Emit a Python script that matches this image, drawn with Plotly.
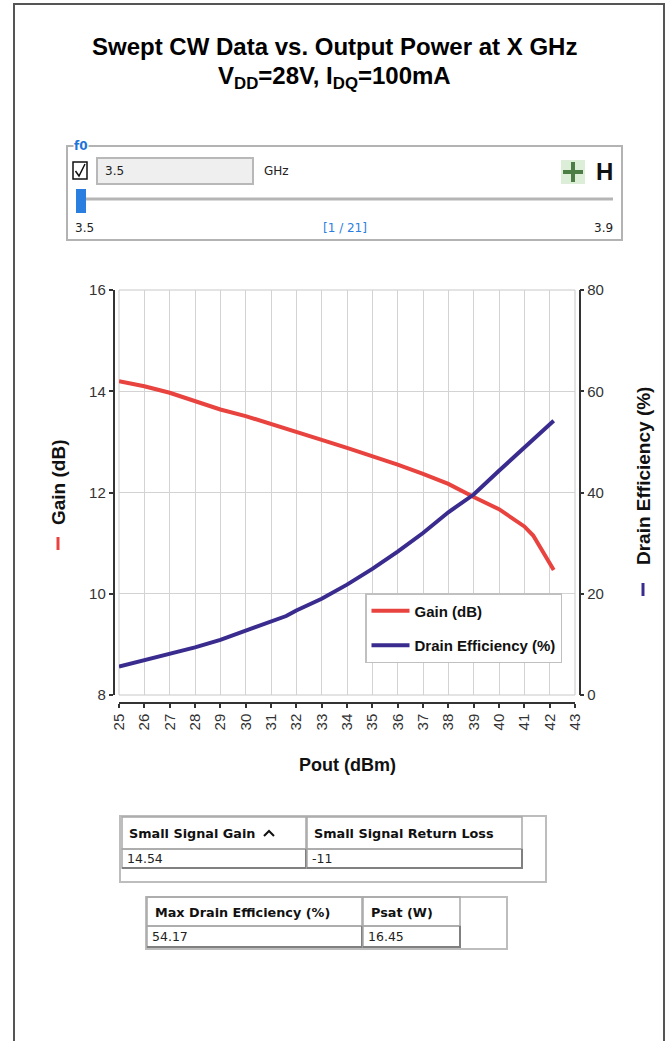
import plotly.graph_objects as go

W, H = 669, 1041

# ---------------- data ----------------
pout = [25, 26, 27, 28, 29, 30, 31, 32, 33, 34, 35, 36, 37, 38, 39, 40, 41, 41.35, 42.16]
gain_db = [14.20, 14.10, 13.97, 13.80, 13.64, 13.51, 13.36, 13.21, 13.04, 12.88,
           12.72, 12.55, 12.37, 12.17, 11.91, 11.67, 11.33, 11.15, 10.47]
pout_eff = [25, 26, 27, 28, 29, 30, 31, 31.6, 32, 33, 34, 35, 36, 37, 38, 39, 40, 41, 42.16]
drain_eff = [5.6, 6.9, 8.0, 9.4, 10.9, 12.7, 14.5, 15.6, 16.7, 19.0, 21.8, 24.9, 28.3,
             32.0, 36.1, 39.6, 44.3, 48.9, 54.17]

x_ticks = list(range(25, 44))
gain_ticks = [8, 10, 12, 14, 16]
eff_ticks = [0, 20, 40, 60, 80]

title_line1 = "Swept CW Data vs. Output Power at X GHz"
title_line2 = "V<sub>DD</sub>=28V, I<sub>DQ</sub>=100mA"

table1_headers = ["Small Signal Gain", "Small Signal Return Loss"]
table1_values = ["14.54", "-11"]
table2_headers = ["Max Drain Efficiency (%)", "Psat (W)"]
table2_values = ["54.17", "16.45"]

slider_value = "3.5"
slider_min, slider_max = "3.5", "3.9"
slider_pos = "[1 / 21]"

RED = "#e8433f"
BLUE = "#3a2c8e"
FONT = "Liberation Sans, Arial, sans-serif"
VFONT = "DejaVu Sans, Verdana, sans-serif"


def px(x):
    return x / W


def py(y):
    return 1 - y / H


fig = go.Figure()
fig.add_trace(go.Scatter(x=pout, y=gain_db, mode="lines", name="<b>Gain (dB)</b>",
                         line=dict(color=RED, width=4), legendgroup="g"))
fig.add_trace(go.Scatter(x=pout_eff, y=drain_eff, mode="lines", name="<b>Drain Efficiency (%)</b>",
                         line=dict(color=BLUE, width=4), yaxis="y2", legendgroup="e"))

shapes = []
ann = []


def text(t, x, y, size, color="#111", family=FONT, xa="center", ya="middle", **kw):
    ann.append(dict(text=t, x=px(x), y=py(y), xref="paper", yref="paper", xanchor=xa, yanchor=ya,
                    showarrow=False, font=dict(family=family, size=size, color=color), **kw))


def line(x0, y0, x1, y1, color, width):
    shapes.append(dict(type="line", xref="paper", yref="paper", x0=px(x0), y0=py(y0),
                       x1=px(x1), y1=py(y1), line=dict(color=color, width=width)))


def rect(x0, y0, x1, y1, color, width, fill=None, layer="above"):
    d = dict(type="rect", xref="paper", yref="paper", x0=px(x0), x1=px(x1), y0=py(y1), y1=py(y0),
             line=dict(color=color, width=width), layer=layer)
    if fill:
        d["fillcolor"] = fill
    shapes.append(d)


def path(points, color, width):
    p = " L ".join(f"{px(a)},{py(b)}" for a, b in points)
    shapes.append(dict(type="path", xref="paper", yref="paper", path="M " + p,
                       line=dict(color=color, width=width)))


# page border
line(14, 4, 14, 1041, "#555555", 2)
line(13, 4, 665, 4, "#555555", 2)
line(664, 4, 664, 1041, "#555555", 2)

# plot frame
rect(119, 290, 575, 695, "#c8c8c8", 1, layer="below")

# titles
text("<b>" + title_line1 + "</b>", 334, 47, 24, "#000")
text("<b>" + title_line2 + "</b>", 334, 78, 24, "#000")

# axis titles
text("<b>Gain (dB)</b>", 58, 482, 19, textangle=-90)
line(58, 537, 58, 550, RED, 3)
text("<b>Drain Efficiency (%)</b>", 643, 476, 19, textangle=-90)
line(643, 583, 643, 596, BLUE, 3)
text("<b>Pout (dBm)</b>", 347, 765, 18)

# ---------------- slider widget ----------------
rect(67, 146, 622, 240, "#b3b3b3", 2)
text("<b>f0</b>", 73, 146, 12, "#1e73d8", VFONT, xa="left", bgcolor="white", borderpad=0)
rect(73, 162, 87, 179, "#111", 1.5)
path([(75.5, 171), (79, 176), (85, 164)], "#111", 1.5)
rect(97, 158, 253, 184, "#b8b8b8", 2, fill="#efefef")
text(slider_value, 103, 171, 12, "#222", VFONT, xa="left")
text("GHz", 262, 171, 12, "#222", VFONT, xa="left")
rect(561, 160, 585, 184, "rgba(0,0,0,0)", 0, fill="#ddeed8")
line(563, 172, 583, 172, "#4c7d45", 4)
line(573, 162, 573, 182, "#4c7d45", 4)
text("<b>H</b>", 604, 172, 24, "#111")
line(77, 199, 613, 199, "#b5b5b5", 3)
rect(76, 189, 86, 213, "rgba(0,0,0,0)", 0, fill="#2a7ee0")
text(slider_min, 73, 228, 12, "#222", VFONT, xa="left")
text(slider_pos, 345, 228, 12, "#2a7ee0", VFONT)
text(slider_max, 615, 228, 12, "#222", VFONT, xa="right")


# ---------------- tables ----------------
def cell(x0, x1, y0, y1, inset=False):
    rect(x0, y0, x1, y1, "#a8a8a8", 1.5)
    if inset:
        path([(x0, y1), (x1, y1), (x1, y0)], "#808080", 2)


rect(120, 816, 546, 882, "#bdbdbd", 2)
cols1 = [(122, 306), (307, 522)]
for (a, b), h, v in zip(cols1, table1_headers, table1_values):
    cell(a, b, 817, 849)
    cell(a, b, 849, 868, inset=True)
    text("<b>" + h + "</b>", a + 5, 833, 12.8, "#111", VFONT, xa="left")
    text(v, a + 3, 858.5, 12.5, "#222", VFONT, xa="left")
path([(264, 836), (269, 831), (274, 836)], "#111", 2)

rect(146, 897, 507, 949, "#bdbdbd", 2)
cols2 = [(147, 362), (363, 460)]
for (a, b), h, v in zip(cols2, table2_headers, table2_values):
    cell(a, b, 897, 926)
    cell(a, b, 926, 947, inset=True)
    text("<b>" + h + "</b>", a + 6, 912.5, 12.8, "#111", VFONT, xa="left")
    text(v, a + 3, 936.5, 12.5, "#222", VFONT, xa="left")

tickfont = dict(family=FONT, size=15, color="#333")
fig.update_layout(
    width=W, height=H, margin=dict(l=0, r=0, t=0, b=0, autoexpand=False),
    paper_bgcolor="white", plot_bgcolor="white",
    xaxis=dict(domain=[px(119), px(575)], range=[25, 43], tickmode="array", tickvals=x_ticks,
               tickangle=-90, ticks="outside", ticklen=4, tickwidth=1.5, tickcolor="#333",
               showline=True, linecolor="#333", linewidth=1.5, anchor="free", position=py(703),
               showgrid=True, gridcolor="#d3d3d3", gridwidth=1, zeroline=False,
               tickfont=dict(family=FONT, size=15, color="#333"), automargin=False),
    yaxis=dict(domain=[py(695), py(290)], range=[8, 16], tickmode="array", tickvals=gain_ticks,
               ticks="outside", ticklen=4, tickwidth=1.5, tickcolor="#333",
               showline=True, linecolor="#333", linewidth=1.5, anchor="free", position=px(113.5),
               showgrid=True, gridcolor="#d3d3d3", gridwidth=1, zeroline=False,
               tickfont=tickfont, automargin=False),
    yaxis2=dict(overlaying="y", side="right", range=[0, 80], tickmode="array", tickvals=eff_ticks,
                ticks="outside", ticklen=4, tickwidth=1.5, tickcolor="#333",
                showline=True, linecolor="#333", linewidth=1.5, anchor="free", position=px(579.5),
                showgrid=False, zeroline=False, tickfont=tickfont, automargin=False),
    legend=dict(x=px(365), y=py(593), xanchor="left", yanchor="top", bgcolor="white",
                bordercolor="#c0c0c0", borderwidth=1.5, tracegroupgap=12,
                font=dict(family=FONT, size=15, color="#111"), traceorder="grouped",
                itemwidth=38),
    shapes=shapes, annotations=ann, showlegend=True,
)
fig.update_traces(hoverinfo="skip")

fig.write_html("out.html", config={"displayModeBar": False},
               post_script="document.body.style.margin='0';document.body.style.overflow='hidden';")
